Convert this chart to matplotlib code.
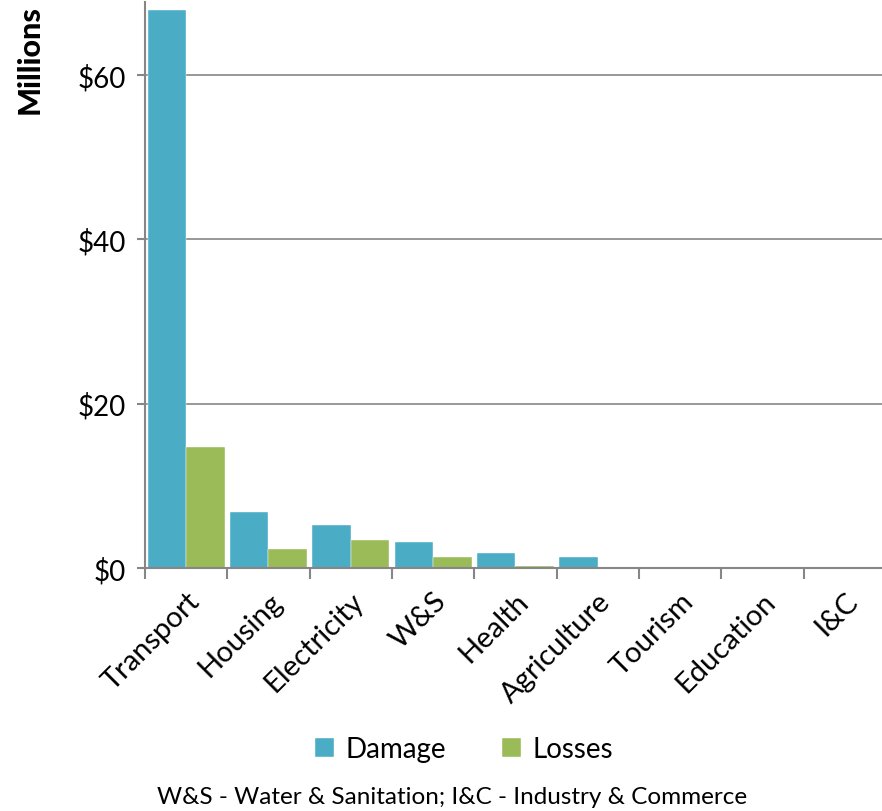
import matplotlib.pyplot as plt
import numpy as np

plt.rcParams['font.family'] = ['Lato', 'DejaVu Sans']

sectors = ['Transport', 'Housing', 'Electricity', 'W&S', 'Health',
           'Agriculture', 'Tourism', 'Education', 'I&C']
damage = [67.9, 6.8, 5.2, 3.2, 1.8, 1.37, 0.1, 0.0, 0.0]
losses = [14.7, 2.3, 3.4, 1.3, 0.25, 0.0, 0.0, 0.0, 0.0]
yticks = [0, 20, 40, 60]
ylabels = ['$0', '$20', '$40', '$60']

blue = '#4BACC6'
green = '#9BBB59'
gray = '#868686'

fig = plt.figure(figsize=(8.82, 8.12), dpi=100)
ax = fig.add_axes([0.1644, 0.2993, 0.84, 0.697])

x = np.arange(len(sectors))
w = 0.467
ax.bar(x - w / 2, damage, w, color=blue, edgecolor='white', linewidth=0.3, label='Damage', zorder=3)
ax.bar(x + w / 2, losses, w, color=green, edgecolor='white', linewidth=0.3, label='Losses', zorder=3)

ax.set_xlim(-0.5, 8.5)
ax.set_ylim(0, 68.9)
ax.set_yticks(yticks)
ax.set_yticklabels(ylabels, fontsize=20)
ax.set_xticks(np.arange(len(sectors) + 1) - 0.5, minor=False)
ax.set_xticklabels([])
ax.set_xticks(x, minor=True)
ax.set_xticklabels(sectors, minor=True, rotation=45, ha='right',
                   rotation_mode='anchor', fontsize=21)
ax.tick_params(axis='x', which='minor', length=0, pad=14)
ax.tick_params(axis='x', which='major', length=8, width=1.5, color=gray)
ax.tick_params(axis='y', length=6, width=1.5, color=gray, pad=8)

ax.grid(axis='y', color=gray, linewidth=1.2, zorder=0)
for s in ['top', 'right']:
    ax.spines[s].set_visible(False)
for s in ['left', 'bottom']:
    ax.spines[s].set_color(gray)
    ax.spines[s].set_linewidth(1.5)
ax.spines['bottom'].set_zorder(4)

ax.set_ylabel('Millions', fontsize=22, fontweight='black')
ax.yaxis.set_label_coords(-0.137, 0.9)

handles, labels = ax.get_legend_handles_labels()
fig.legend(handles, labels, loc='center', bbox_to_anchor=(0.526, 0.076), ncol=2,
           frameon=False, fontsize=20, handlelength=0.7, handleheight=0.7,
           columnspacing=2.0, handletextpad=0.4)

fig.text(0.512, 0.018, 'W&S - Water & Sanitation; I&C - Industry & Commerce',
         ha='center', va='center', fontsize=17.5)

fig.savefig('out.png', dpi=100)
